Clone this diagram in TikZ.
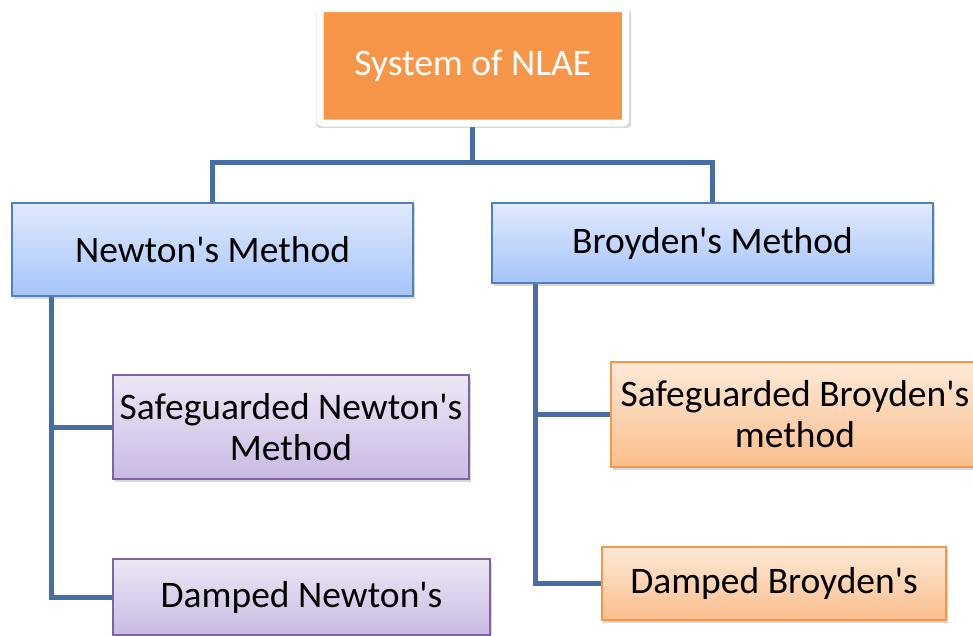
\documentclass[tikz,border=0pt]{standalone}
\usepackage{fontspec}
\setmainfont{Carlito}
\usetikzlibrary{shadows,calc,backgrounds}
\definecolor{linec}{RGB}{70,110,165}
\definecolor{blueb}{RGB}{79,129,189}
\definecolor{bluet}{RGB}{225,234,253}
\definecolor{blueb2}{RGB}{165,196,249}
\definecolor{purb}{RGB}{128,100,162}
\definecolor{purt}{RGB}{237,231,245}
\definecolor{purb2}{RGB}{202,186,228}
\definecolor{orb}{RGB}{247,150,70}
\definecolor{ort}{RGB}{253,233,215}
\definecolor{orb2}{RGB}{251,190,140}
\definecolor{topfill}{RGB}{247,150,72}
\newcommand{\ap}{\textquotesingle}
\tikzset{
  boxbase/.style={rectangle, align=center, line width=1.5pt, inner sep=0pt,
    font=\fontsize{37.5}{41}\selectfont,
    drop shadow={opacity=0.3, shadow xshift=2pt, shadow yshift=-3pt}},
  bluebox/.style={boxbase, draw=blueb, top color=bluet, bottom color=blueb2},
  purbox/.style={boxbase, draw=purb, top color=purt, bottom color=purb2},
  orbox/.style={boxbase, draw=orb, top color=ort, bottom color=orb2},
  topbox/.style={rectangle, draw=white, line width=7pt, rounded corners=3pt, fill=topfill,
    text=white, font=\fontsize{37.5}{41}\selectfont, inner sep=0pt,
    drop shadow={opacity=0.3, shadow scale=1.03, shadow xshift=1pt, shadow yshift=-3pt}},
  conn/.style={draw=linec, line width=5pt, line join=miter}
}
\begin{document}
\begin{tikzpicture}[x=1pt, y=-1pt]
\useasboundingbox (0,0) rectangle (973,635);
\clip (0,0) rectangle (973,635);
\node[topbox, minimum width=305.5pt, minimum height=114.5pt] (top) at (472.75,65.75) {\raisebox{-2pt}{System of NLAE}};
\node[bluebox, minimum width=401pt, minimum height=93pt] (newton) at (212.5,249.5) {Newton\ap s Method};
\node[bluebox, minimum width=441pt, minimum height=80pt] (broyden) at (712.5,243) {Broyden\ap s Method};
\node[purbox, minimum width=356pt, minimum height=104pt] (sn) at (291,427) {Safeguarded Newton\ap s\\Method};
\node[purbox, minimum width=377pt, minimum height=76pt] (dn) at (301.5,597) {Damped Newton\ap s};
\node[orbox, minimum width=368pt, minimum height=105pt] (sb) at (795,414.5) {Safeguarded Broyden\ap s\\method};
\node[orbox, minimum width=344pt, minimum height=73pt] (db) at (774,583.5) {Damped Broyden\ap s};
\begin{scope}[on background layer]
\fill[white] (0,0) rectangle (973,635);
\draw[conn] (top.south) -- ++(0,35.5) coordinate (hub);
\draw[conn] (newton.north) |- (hub) -| (broyden.north);
\draw[conn] ($(newton.south west)+(40,0)$) coordinate (nl) |- (sn.west);
\draw[conn] (nl) |- (dn.west);
\draw[conn] ($(broyden.south west)+(44,0)$) coordinate (bl) |- (sb.west);
\draw[conn] (bl) |- (db.west);
\end{scope}
\end{tikzpicture}
\end{document}
